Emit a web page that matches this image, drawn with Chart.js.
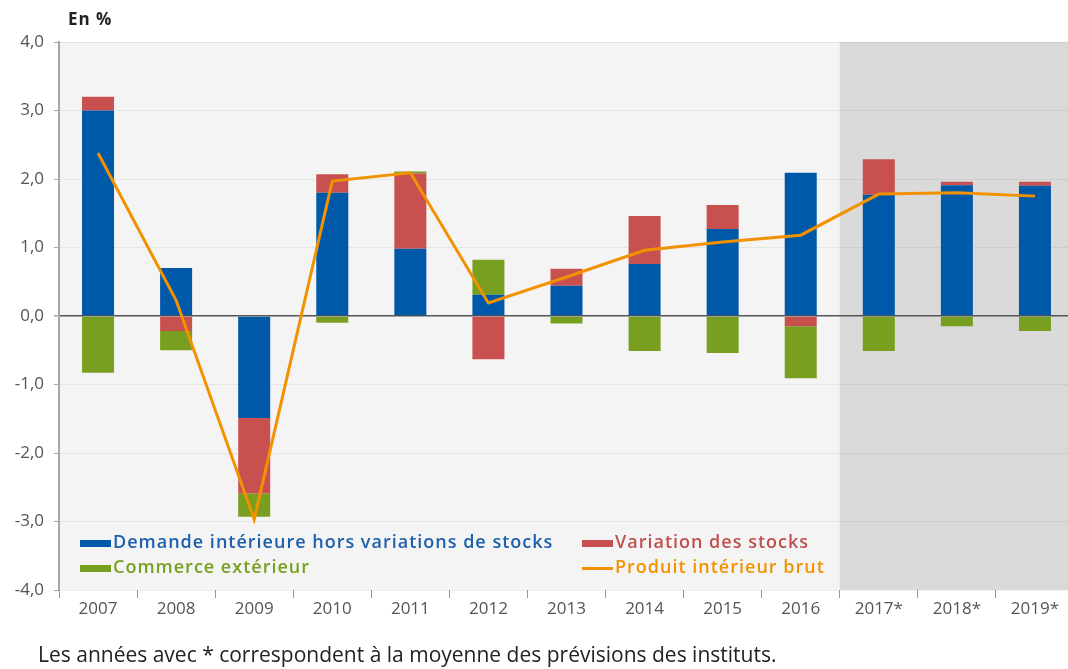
<!DOCTYPE html>
<html lang="fr">
<head>
<meta charset="utf-8">
<title>Contributions à la croissance du PIB</title>
<script src="https://cdn.jsdelivr.net/npm/chart.js@4.4.1/dist/chart.umd.min.js"></script>
<style>
  html, body { margin: 0; padding: 0; background: #fff; overflow: hidden; }
  #wrap { position: relative; width: 1074px; height: 669px; }
  #chart { position: absolute; left: 0; top: 0; }
  #unit { position: absolute; left: 68px; top: 7px; font: 700 17px "Open Sans", sans-serif; letter-spacing: 1px; color: #222; }
  #note { position: absolute; left: 38px; top: 640px; font: 400 21px "Open Sans", sans-serif; color: #222; white-space: nowrap; }
</style>
</head>
<body>
<div id="wrap">
  <canvas id="chart" width="1074" height="669"></canvas>
  <div id="unit">En %</div>
  <div id="note">Les années avec * correspondent à la moyenne des prévisions des instituts.</div>
</div>
<script>
// donnees (en points de %)
var categories = ["2007", "2008", "2009", "2010", "2011", "2012", "2013", "2014", "2015", "2016", "2017*", "2018*", "2019*"];
var demandeInterieure = [3.0, 0.70, -1.49, 1.80, 0.98, 0.31, 0.44, 0.76, 1.27, 2.09, 1.77, 1.91, 1.90];
var variationStocks = [0.20, -0.22, -1.10, 0.27, 1.10, -0.63, 0.25, 0.70, 0.35, -0.15, 0.52, 0.05, 0.06];
var commerceExterieur = [-0.83, -0.28, -0.34, -0.10, 0.03, 0.51, -0.11, -0.51, -0.54, -0.76, -0.51, -0.15, -0.22];
var pib = [2.38, 0.23, -2.97, 1.97, 2.09, 0.19, 0.57, 0.96, 1.08, 1.18, 1.78, 1.80, 1.75];
var firstForecast = 10; // 2017*

var BLUE = "#0058a8", RED = "#c8504f", GREEN = "#789f1f", ORANGE = "#f39200";
var FONT = "'Open Sans', sans-serif";

var legendItems = [
    { text: "Demande intérieure hors variations de stocks", color: BLUE, textColor: "#1c5fac", kind: "box", col: 0, row: 0 },
    { text: "Variation des stocks", color: RED, textColor: "#c0504d", kind: "box", col: 1, row: 0 },
    { text: "Commerce extérieur", color: GREEN, textColor: "#76a01f", kind: "box", col: 0, row: 1 },
    { text: "Produit intérieur brut", color: ORANGE, textColor: "#f39200", kind: "line", col: 1, row: 1 }
];

var backgrounds = {
    id: "backgrounds",
    beforeDraw: function (chart) {
        var c = chart.ctx, a = chart.chartArea, x = chart.scales.x;
        var split = (x.getPixelForTick(firstForecast - 1) + x.getPixelForTick(firstForecast)) / 2;
        c.save();
        c.fillStyle = "#f4f4f4";
        c.fillRect(a.left, a.top, a.right - a.left, a.bottom - a.top);
        c.fillStyle = "#dadada";
        c.fillRect(split, a.top, a.right - split, a.bottom - a.top);
        c.restore();
    }
};

var insideLegend = {
    id: "insideLegend",
    afterDatasetsDraw: function (chart) {
        var c = chart.ctx, a = chart.chartArea;
        var colX = [a.left + 21, a.left + 523];
        var rowY = [a.bottom - 47, a.bottom - 22];
        c.save();
        c.font = "600 18px " + FONT;
        c.letterSpacing = "1px";
        c.textBaseline = "middle";
        legendItems.forEach(function (it) {
            var x = colX[it.col], y = rowY[it.row];
            c.fillStyle = it.color;
            if (it.kind === "box") {
                c.fillRect(x, y - 3, 31, 7);
            } else {
                c.fillRect(x, y - 1, 31, 3);
            }
            c.fillStyle = it.textColor;
            c.fillText(it.text, x + 33, y);
        });
        c.letterSpacing = "0px";
        c.restore();
    }
};

var ctx = document.getElementById("chart");
var myChart = new Chart(ctx, {
    type: "bar",
    data: {
        labels: categories,
        datasets: [
            {
                type: "line",
                label: "Produit intérieur brut",
                data: pib,
                borderColor: ORANGE,
                borderWidth: 3,
                pointRadius: 0,
                tension: 0,
                fill: false,
                order: 0
            },
            {
                label: "Demande intérieure hors variations de stocks",
                data: demandeInterieure,
                backgroundColor: BLUE,
                stack: "s",
                order: 1
            },
            {
                label: "Variation des stocks",
                data: variationStocks,
                backgroundColor: RED,
                stack: "s",
                order: 1
            },
            {
                label: "Commerce extérieur",
                data: commerceExterieur,
                backgroundColor: GREEN,
                stack: "s",
                order: 1
            }
        ]
    },
    options: {
        responsive: false,
        animation: false,
        devicePixelRatio: 1,
        layout: { padding: { top: 42, left: 0, right: 0, bottom: 0 } },
        datasets: {
            bar: { barPercentage: 0.41, categoryPercentage: 1 }
        },
        plugins: {
            legend: { display: false },
            tooltip: { enabled: false }
        },
        scales: {
            x: {
                stacked: true,
                afterFit: function (s) { s.height = 79; },
                border: { display: false },
                grid: {
                    offset: true,
                    drawOnChartArea: false,
                    drawTicks: true,
                    tickLength: 8,
                    color: "#9a9a9a"
                },
                ticks: {
                    padding: 1,
                    color: "#555",
                    font: { family: FONT, size: 17 }
                }
            },
            y: {
                stacked: true,
                min: -4,
                max: 4,
                afterFit: function (s) { s.width = 59; },
                border: { display: true, color: "#a6a6a6", width: 2 },
                grid: {
                    drawTicks: true,
                    tickLength: 5,
                    tickColor: "#a6a6a6",
                    color: function (c) { return c.tick && c.tick.value === 0 ? "#555" : "rgba(0,0,0,0.06)"; },
                    lineWidth: function (c) { return c.tick && c.tick.value === 0 ? 1.5 : 1; }
                },
                ticks: {
                    stepSize: 1,
                    padding: 10,
                    color: "#555",
                    font: { family: FONT, size: 17 },
                    callback: function (v) { return v.toFixed(1).replace(".", ","); }
                }
            }
        }
    },
    plugins: [backgrounds, insideLegend]
});
</script>
</body>
</html>
